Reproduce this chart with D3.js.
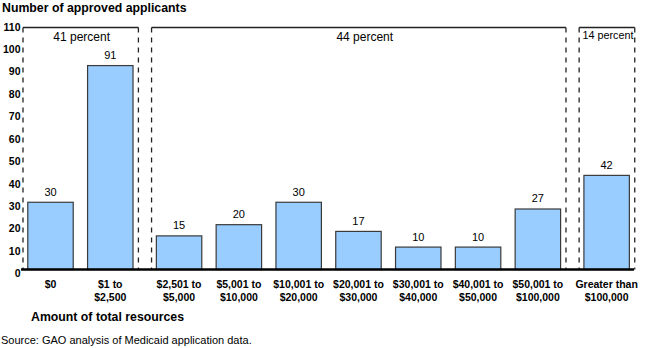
<!DOCTYPE html>
<html>
<head>
<meta charset="utf-8">
<script src="https://cdn.jsdelivr.net/npm/d3@7"></script>
<style>
  html, body { margin: 0; padding: 0; background: #fff; }
  svg { display: block; font-family: "Liberation Sans", Arial, sans-serif; }
</style>
</head>
<body>
<svg id="chart" width="650" height="348"></svg>
<script>
// resource brackets, one bar each
const categories = [
  ["$0"], ["$1 to", "$2,500"], ["$2,501 to", "$5,000"], ["$5,001 to", "$10,000"],
  ["$10,001 to", "$20,000"], ["$20,001 to", "$30,000"], ["$30,001 to", "$40,000"],
  ["$40,001 to", "$50,000"], ["$50,001 to", "$100,000"], ["Greater than", "$100,000"]
];
const applicants = [30, 91, 15, 20, 30, 17, 10, 10, 27, 42];
// which bracket group each bar belongs to
const groupOf = [0, 0, 1, 1, 1, 1, 1, 1, 1, 2];
const groupLabels = ["41 percent", "44 percent", "14 percent"];
const yTicks = [0, 10, 20, 30, 40, 50, 60, 70, 80, 90, 100, 110];

const svg = d3.select("#chart");
const ink = "#222";

// slots are spread out a little between groups
const groupGap = 0.15;
const slot = i => i + groupOf[i] * groupGap;

const x = d3.scaleLinear().domain([0, 1]).range([50.5, 110.3]);
const step = x(1) - x(0);
const barW = step * 0.76;
const y = d3.scaleLinear().domain([0, 110]).range([269.5, 23]);

// title
svg.append("text")
    .attr("x", 2).attr("y", 12)
    .style("font-size", "12.3px").style("font-weight", "bold")
    .text("Number of approved applicants");

// y tick labels
svg.append("g")
    .selectAll("text")
    .data(yTicks)
    .join("text")
    .attr("x", 20.5)
    .attr("y", d => y(d) + 4)
    .attr("dy", "0.35em")
    .attr("text-anchor", "end")
    .style("font-size", "10.5px").style("font-weight", "bold")
    .text(d => d);

// group boxes: solid top, dashed sides
const groups = groupLabels.map((label, g) => {
  const idx = d3.range(applicants.length).filter(i => groupOf[i] === g);
  return {
    label,
    left: x(slot(idx[0]) - 0.46),
    right: x(slot(idx[idx.length - 1]) + 0.47)
  };
});

const boxTop = 27.5;
const box = svg.append("g").attr("fill", "none").attr("stroke", ink);
groups.forEach(g => {
  box.append("line")
      .attr("x1", g.left).attr("x2", g.right)
      .attr("y1", boxTop).attr("y2", boxTop)
      .attr("stroke-width", 1.4);
  [g.left, g.right].forEach(px => {
    box.append("line")
        .attr("x1", px).attr("x2", px)
        .attr("y1", boxTop).attr("y2", y(0))
        .attr("stroke-width", 1.3)
        .attr("stroke-dasharray", "5,5");
  });
});

svg.append("g")
    .selectAll("text")
    .data(groups)
    .join("text")
    .attr("x", d => (d.left + d.right) / 2 + (d.label === "44 percent" ? 6 : 1))
    .attr("y", (d, i) => i === 2 ? 38.5 : 40.5)
    .attr("text-anchor", "middle")
    .style("font-size", (d, i) => i === 2 ? "10.8px" : "12px")
    .text(d => d.label);

// bars
svg.append("g")
    .selectAll("rect")
    .data(applicants)
    .join("rect")
    .attr("x", (d, i) => x(slot(i)) - barW / 2)
    .attr("width", barW)
    .attr("y", d => y(d))
    .attr("height", d => y(0) - y(d))
    .attr("fill", "#99ccff")
    .attr("stroke", "#3a3a3a")
    .attr("stroke-width", 1.2);

// value labels
svg.append("g")
    .selectAll("text")
    .data(applicants)
    .join("text")
    .attr("x", (d, i) => x(slot(i)))
    .attr("y", d => y(d) - 6.5)
    .attr("text-anchor", "middle")
    .style("font-size", "11px")
    .text(d => d);

// baseline
svg.append("line")
    .attr("x1", 21).attr("x2", 634)
    .attr("y1", y(0)).attr("y2", y(0))
    .attr("stroke", "#000").attr("stroke-width", 2.5);

// category labels
const cat = svg.append("g")
    .selectAll("text")
    .data(categories)
    .join("text")
    .attr("text-anchor", "middle")
    .style("font-size", "10.5px").style("font-weight", "bold");
cat.selectAll("tspan")
    .data((d, i) => d.map(line => ({ line, i })))
    .join("tspan")
    .attr("x", d => x(slot(d.i)))
    .attr("y", (d, j) => 288 + j * 13)
    .text(d => d.line);

svg.append("text")
    .attr("x", 31).attr("y", 320.5)
    .style("font-size", "12.3px").style("font-weight", "bold")
    .text("Amount of total resources");

svg.append("text")
    .attr("x", 1).attr("y", 344)
    .style("font-size", "11px")
    .text("Source: GAO analysis of Medicaid application data.");
</script>
</body>
</html>
